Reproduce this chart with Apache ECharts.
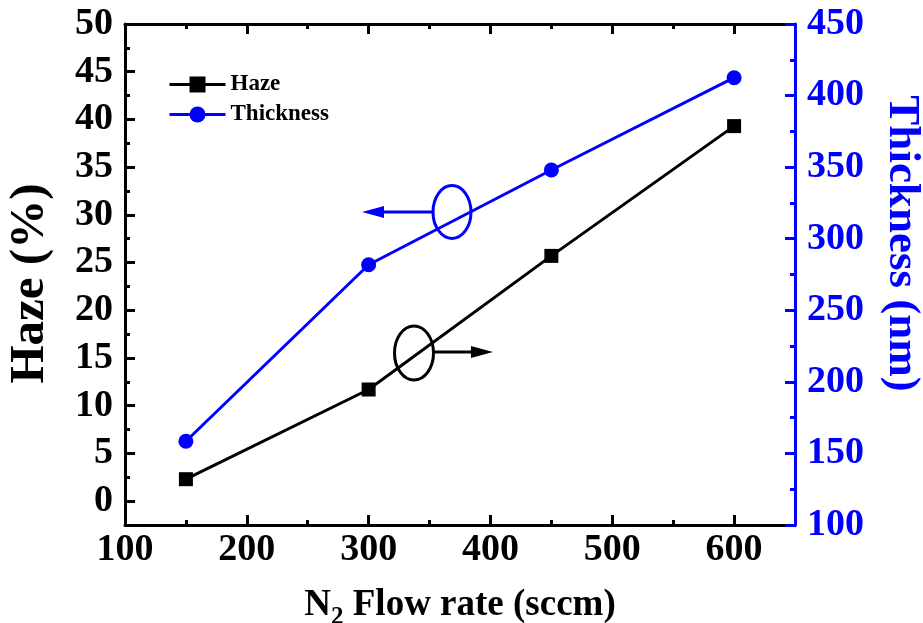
<!DOCTYPE html>
<html>
<head>
<meta charset="utf-8">
<script src="https://cdn.jsdelivr.net/npm/echarts@6/dist/echarts.min.js"></script>
<style>html,body{margin:0;padding:0;background:#fff;}#c{width:923px;height:623px;}</style>
</head>
<body>
<div id="c"></div>
<script>
var flowRates = [150, 300, 450, 600];
var hazeValues = [2.3, 11.7, 25.7, 39.3];
var thicknessValues = [158.5, 281.8, 348, 412.5];
var flowTicks = [100, 200, 300, 400, 500, 600];
var hazeTicks = [0, 5, 10, 15, 20, 25, 30, 35, 40, 45, 50];
var hazeMinorTicks = [2.5, 7.5, 12.5, 17.5, 22.5, 27.5, 32.5, 37.5, 42.5, 47.5];

var FONT = "'Liberation Serif','Times New Roman',serif";
var BLUE = '#0000ff';

var chart = echarts.init(document.getElementById('c'), null, {renderer: 'canvas'});

function pairs(xs, ys) { return xs.map(function (x, i) { return [x, ys[i]]; }); }

var tickLabel = {fontSize: 38, fontWeight: 'bold', fontFamily: FONT, color: '#000'};

var option = {
  backgroundColor: '#fff',
  animation: false,
  grid: {left: 125, right: 128, top: 24, bottom: 98, containLabel: false, outerBoundsMode: 'none'},
  legend: {
    data: ['Haze', 'Thickness'],
    orient: 'vertical',
    left: 168,
    top: 73,
    padding: 0,
    itemWidth: 56,
    itemHeight: 20,
    itemGap: 7,
    lineStyle: {width: 3},
    textStyle: {fontSize: 23, fontWeight: 'bold', fontFamily: FONT, color: '#000'}
  },
  xAxis: [{
    type: 'value', position: 'bottom', min: 100, max: 650, interval: 100, z: 1,
    axisLine: {onZero: false, lineStyle: {color: '#000', width: 3}},
    axisTick: {inside: true, length: 10, customValues: flowTicks, lineStyle: {color: '#000', width: 3}},
    minorTick: {show: true, splitNumber: 2, length: 5, lineStyle: {color: '#000', width: 3}},
    axisLabel: Object.assign({margin: 6, customValues: flowTicks}, tickLabel),
    splitLine: {show: false}, minorSplitLine: {show: false},
    name: '{n|N}{s|2}{n| Flow rate (sccm)}',
    nameLocation: 'middle', nameGap: 62,
    nameTextStyle: {
      rich: {
        n: {fontSize: 37, fontWeight: 'bold', fontFamily: FONT, color: '#000', verticalAlign: 'top'},
        s: {fontSize: 25, fontWeight: 'bold', fontFamily: FONT, color: '#000', verticalAlign: 'top', padding: [18, 0, 0, 0]}
      }
    }
  }, {
    type: 'value', position: 'top', min: 100, max: 650, interval: 100, z: 1,
    axisLine: {onZero: false, lineStyle: {color: '#000', width: 3}},
    axisTick: {inside: true, length: 10, customValues: flowTicks, lineStyle: {color: '#000', width: 3}},
    minorTick: {show: true, splitNumber: 2, length: 5, lineStyle: {color: '#000', width: 3}},
    axisLabel: {show: false},
    splitLine: {show: false}
  }],
  yAxis: [{
    type: 'value', position: 'left', min: -2.5, max: 50, interval: 2.5, z: 1,
    axisLine: {show: true, onZero: false, lineStyle: {color: '#000', width: 3}},
    axisTick: {show: true, inside: true, length: 10, customValues: hazeTicks, lineStyle: {color: '#000', width: 3}},
    axisLabel: Object.assign({margin: 12, customValues: hazeTicks}, tickLabel),
    splitLine: {show: false},
    name: 'Haze (%)', nameLocation: 'middle', nameRotate: 90, nameGap: 70,
    nameTextStyle: {fontSize: 49, fontWeight: 'bold', fontFamily: FONT, color: '#000', padding: [0, 18, 0, 0]}
  }, {
    type: 'value', position: 'right', min: 100, max: 450, interval: 50, z: 3,
    axisLine: {show: true, onZero: false, lineStyle: {color: BLUE, width: 3}},
    axisTick: {show: true, inside: true, length: 10, lineStyle: {color: BLUE, width: 3}},
    minorTick: {show: true, splitNumber: 2, length: 5, lineStyle: {color: BLUE, width: 3}},
    axisLabel: Object.assign({}, tickLabel, {margin: 12, color: BLUE}),
    splitLine: {show: false}, minorSplitLine: {show: false},
    name: 'Thickness (nm)', nameLocation: 'middle', nameRotate: -90, nameGap: 84,
    nameTextStyle: {fontSize: 45, fontWeight: 'bold', fontFamily: FONT, color: BLUE, padding: [0, 62, 0, 0]}
  }, {
    type: 'value', position: 'left', min: -2.5, max: 50, interval: 2.5, z: 1,
    axisLine: {show: false, onZero: false},
    axisTick: {show: true, inside: true, length: 5, customValues: hazeMinorTicks, lineStyle: {color: '#000', width: 3}},
    axisLabel: {show: false},
    splitLine: {show: false}
  }],
  series: [{
    name: 'Haze', type: 'line', xAxisIndex: 0, yAxisIndex: 0,
    data: pairs(flowRates, hazeValues),
    symbol: 'rect', symbolSize: 14,
    lineStyle: {color: '#000', width: 3},
    itemStyle: {color: '#000'}
  }, {
    name: 'Thickness', type: 'line', xAxisIndex: 0, yAxisIndex: 1,
    data: pairs(flowRates, thicknessValues),
    symbol: 'circle', symbolSize: 15,
    lineStyle: {color: BLUE, width: 3},
    itemStyle: {color: BLUE}
  }],
  graphic: [
    {type: 'ellipse', shape: {cx: 452, cy: 212, rx: 19, ry: 26.5}, style: {fill: 'none', stroke: BLUE, lineWidth: 3}, z: 10},
    {type: 'line', shape: {x1: 433, y1: 212, x2: 378, y2: 212}, style: {stroke: BLUE, lineWidth: 3}, z: 10},
    {type: 'polygon', shape: {points: [[362, 212], [384, 206], [384, 218]]}, style: {fill: BLUE}, z: 10},
    {type: 'ellipse', shape: {cx: 414, cy: 353, rx: 19.5, ry: 27}, style: {fill: 'none', stroke: '#000', lineWidth: 3}, z: 10},
    {type: 'line', shape: {x1: 434, y1: 352, x2: 478, y2: 352}, style: {stroke: '#000', lineWidth: 3}, z: 10},
    {type: 'polygon', shape: {points: [[493, 352], [471, 346], [471, 358]]}, style: {fill: '#000'}, z: 10}
  ]
};
chart.setOption(option);
</script>
</body>
</html>
